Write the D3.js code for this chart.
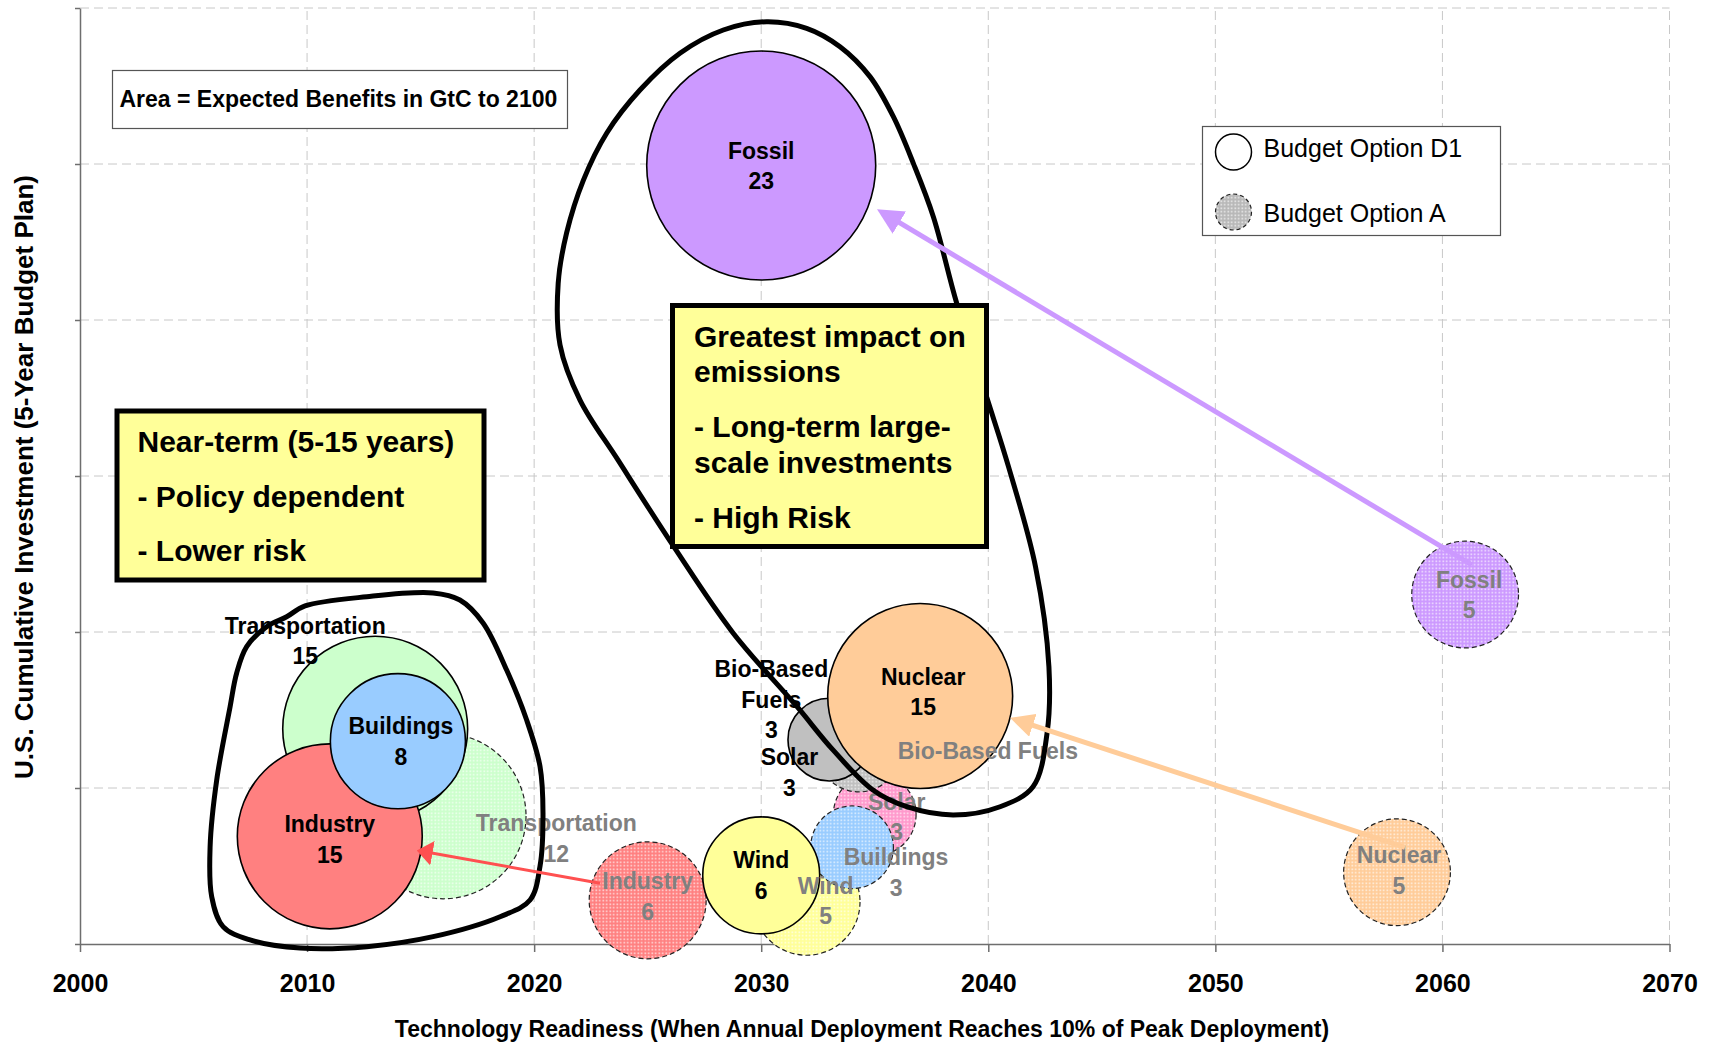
<!DOCTYPE html>
<meta charset="utf-8">
<html>

<head>
  <script src="https://d3js.org/d3.v7.min.js" charset="utf-8"></script>

  <style>
    body {
      margin: 0;
      background-color: #ffffff;
    }

    text {
      font-family: 'Liberation Sans', Arial, sans-serif;
    }

    /*gridlines*/
    .grid line {
      stroke: #c8c8c8;
      stroke-width: 1;
      stroke-dasharray: 9, 5;
    }

    /*axes*/
    .axis path,
    .axis line {
      fill: none;
      stroke: #6e6e6e;
      stroke-width: 1.5;
    }

    .x-axis text {
      font-size: 25px;
      font-weight: bold;
      fill: #000;
    }

    .axis-title {
      font-size: 23px;
      font-weight: bold;
      text-anchor: middle;
    }

    /*bubbles*/
    .bubble-d1 {
      stroke: #000;
      stroke-width: 1.6;
    }

    .bubble-a {
      stroke: #222;
      stroke-width: 1.2;
      stroke-dasharray: 5, 3;
    }

    .lab {
      font-size: 23px;
      font-weight: bold;
      text-anchor: middle;
    }

    .loop {
      fill: none;
      stroke: #000;
      stroke-width: 5;
    }

    .note rect {
      fill: #ffff99;
      stroke: #000;
      stroke-width: 5;
    }

    .note text {
      font-size: 30px;
      font-weight: bold;
    }
  </style>
</head>

<body>
  <script>
    //Technologies, in drawing order
    var techs = ["Solar", "Bio-Based Fuels", "Nuclear", "Fossil", "Transportation", "Industry", "Wind", "Buildings"];

    //Budget Option D1 (solid bubbles)
    var d1Year = [2036, 2033, 2037, 2030, 2013, 2011, 2030, 2014];
    var d1Invest = [1.50, 1.31, 1.59, 4.99, 1.38, 0.69, 0.44, 1.30];
    var d1Benefit = [3, 3, 15, 23, 15, 15, 6, 8];

    //Budget Option A (dotted bubbles)
    var aYear = [2035, 2034.3, 2058, 2061, 2016, 2025, 2032, 2034];
    var aInvest = [0.83, 1.24, 0.46, 2.24, 0.82, 0.28, 0.27, 0.62];
    var aBenefit = [3, 3, 5, 5, 12, 6, 5, 3];

    //Axis ticks
    var xTicks = [2000, 2010, 2020, 2030, 2040, 2050, 2060, 2070];
    var yTicks = [0, 1, 2, 3, 4, 5, 6];

    //Arrows from option A to option D1
    var arrowTech = ["Fossil", "Nuclear", "Industry"];
    var arrowFrom = [[2061.3, 2.43], [2058.35, 0.62], [2022.9, 0.39]];
    var arrowTo = [[2035.1, 4.71], [2040.96, 1.45], [2014.83, 0.60]];

    //Hand drawn groupings (year, investment)
    var longTermLoop = [[2030.24, 5.912], [2032.0, 5.87], [2033.47, 5.752], [2034.79, 5.56], [2035.82, 5.303],
      [2036.7, 5.004], [2037.58, 4.662], [2038.61, 4.107], [2039.97, 3.487], [2040.89, 3.06], [2042.08, 2.419],
      [2042.67, 1.778], [2042.59, 1.353], [2041.97, 1.008], [2040.52, 0.88], [2038.45, 0.827], [2036.41, 0.88],
      [2034.92, 0.987], [2033.16, 1.244], [2031.58, 1.521], [2028.76, 1.994], [2026.15, 2.547], [2023.69, 3.103],
      [2022.02, 3.487], [2021.14, 3.84], [2021.06, 4.237], [2021.43, 4.558], [2022.17, 4.897], [2023.2, 5.199],
      [2024.66, 5.474], [2026.42, 5.71], [2028.33, 5.859]];
    var nearTermLoop = [[2009.91, 2.167], [2012.63, 2.226], [2015.55, 2.25], [2016.73, 2.205], [2017.75, 2.058],
      [2018.79, 1.756], [2019.67, 1.436], [2020.26, 1.137], [2020.39, 0.84], [2020.26, 0.5], [2019.82, 0.282],
      [2018.5, 0.175], [2015.55, 0.047], [2012.63, -0.017], [2009.69, -0.026], [2007.49, 0.026], [2006.3, 0.111],
      [2005.8, 0.303], [2005.73, 0.624], [2006.02, 1.051], [2006.61, 1.521], [2006.9, 1.737], [2007.34, 1.906],
      [2008.22, 2.034], [2009.1, 2.098]];

    //Texts
    var nearTermNote = ["Near-term (5-15 years)", "- Policy dependent", "- Lower risk"];
    var longTermNote = ["Greatest impact on", "emissions", "- Long-term large-", "scale investments", "- High Risk"];
    var areaNote = "Area = Expected Benefits in GtC to 2100";
    var legendLabels = ["Budget Option D1", "Budget Option A"];
    var xTitle = "Technology Readiness (When Annual Deployment Reaches 10% of Peak Deployment)";
    var yTitle = "U.S. Cumulative Investment (5-Year Budget Plan)";

    //Colours
    var colour = {
      "Fossil": "#cc99ff",
      "Nuclear": "#ffcc99",
      "Transportation": "#ccffcc",
      "Buildings": "#99ccff",
      "Industry": "#ff8080",
      "Wind": "#ffff99",
      "Bio-Based Fuels": "#c0c0c0",
      "Solar": "#ff99cc"
    };
    var arrowColour = { "Fossil": "#cc99ff", "Nuclear": "#ffcc99", "Industry": "#ff5050" };

    //Label shifts (px) where labels sit off centre
    var d1Shift = { "Solar": [-108, 62], "Bio-Based Fuels": [-58, -40], "Transportation": [-70, -88],
      "Nuclear": [3, -4], "Buildings": [3, 0], "Industry": [0, 3] };
    var aShift = { "Transportation": [113, 22], "Wind": [19, -1], "Buildings": [44, 25], "Solar": [22, 2],
      "Bio-Based Fuels": [129, 0], "Fossil": [4, 0], "Industry": [0, -4], "Nuclear": [2, -2] };

    //Margin conventions
    var m = { top: 8, right: 41.5, bottom: 100, left: 80 },
      W = 1711, H = 1044,
      w = W - m.left - m.right,
      h = H - m.top - m.bottom;

    var svg = d3.select("body")
      .append("svg")
      .attr("width", W)
      .attr("height", H);

    var defs = svg.append("defs");

    //Dotted fills for option A
    techs.forEach((t, i) => {
      var p = defs.append("pattern")
        .attr("id", "dots" + i)
        .attr("patternUnits", "userSpaceOnUse")
        .attr("width", 3.5).attr("height", 3.5);
      p.append("rect").attr("width", 3.5).attr("height", 3.5).attr("fill", colour[t]);
      p.append("rect").attr("x", 0.5).attr("y", 0.5).attr("width", 1.5).attr("height", 1.5)
        .attr("fill", "#fff").attr("opacity", 0.8);
    });
    var lp = defs.append("pattern")
      .attr("id", "dotsLegend")
      .attr("patternUnits", "userSpaceOnUse")
      .attr("width", 3.5).attr("height", 3.5);
    lp.append("rect").attr("width", 3.5).attr("height", 3.5).attr("fill", "#b8b8b8");
    lp.append("rect").attr("x", 0.5).attr("y", 0.5).attr("width", 1.5).attr("height", 1.5)
      .attr("fill", "#fff").attr("opacity", 0.8);

    //Arrow heads
    var headSize = { "Fossil": [26, 13], "Nuclear": [24, 12], "Industry": [16, 12.5] };
    arrowTech.forEach(t => {
      var s = headSize[t];
      defs.append("marker")
        .attr("id", "head-" + t)
        .attr("markerUnits", "userSpaceOnUse")
        .attr("viewBox", `0 ${-s[1]} ${s[0]} ${2 * s[1]}`)
        .attr("markerWidth", s[0])
        .attr("markerHeight", 2 * s[1])
        .attr("refX", s[0] * 0.5)
        .attr("refY", 0)
        .attr("orient", "auto")
        .append("path")
        .attr("d", `M0,${-s[1]}L${s[0]},0L0,${s[1]}Z`)
        .attr("fill", arrowColour[t]);
    });

    //Scales
    var x = d3.scaleLinear().domain([2000, 2070]).range([m.left, m.left + w]);
    var y = d3.scaleLinear().domain([0, 6]).range([m.top + h, m.top]);
    var r = d3.scaleSqrt().domain([0, 23]).range([0, 114.5]);

    //Gridlines
    var grid = svg.append("g").attr("class", "grid");
    grid.selectAll(".vg")
      .data(xTicks.slice(1))
      .enter().append("line")
      .attr("x1", d => x(d)).attr("x2", d => x(d))
      .attr("y1", y(0)).attr("y2", y(6));
    grid.selectAll(".hg")
      .data(yTicks.slice(1))
      .enter().append("line")
      .attr("x1", x(2000)).attr("x2", x(2070))
      .attr("y1", d => y(d)).attr("y2", d => y(d));

    //Axes
    svg.append("g")
      .attr("class", "axis x-axis")
      .attr("transform", `translate(0, ${y(0)})`)
      .call(d3.axisBottom(x)
        .tickValues(xTicks)
        .tickFormat(d3.format("d"))
        .tickSize(8)
        .tickSizeOuter(0)
        .tickPadding(22));

    svg.append("g")
      .attr("class", "axis y-axis")
      .attr("transform", `translate(${x(2000)}, 0)`)
      .call(d3.axisLeft(y)
        .tickValues(yTicks)
        .tickFormat("")
        .tickSize(5)
        .tickSizeOuter(0));

    //Axis titles
    svg.append("text")
      .attr("class", "axis-title")
      .attr("x", 862)
      .attr("y", 1037)
      .text(xTitle);

    svg.append("text")
      .attr("class", "axis-title")
      .attr("transform", "translate(33, 477) rotate(-90)")
      .style("font-size", "26px")
      .text(yTitle);

    //Bubble data
    var aData = techs.map((t, i) => ({ tech: t, i: i, year: aYear[i], inv: aInvest[i], val: aBenefit[i] }));
    var d1Data = techs.map((t, i) => ({ tech: t, i: i, year: d1Year[i], inv: d1Invest[i], val: d1Benefit[i] }));

    svg.selectAll(".bubble-a")
      .data(aData)
      .enter()
      .append("circle")
      .attr("class", "bubble-a")
      .attr("cx", d => x(d.year))
      .attr("cy", d => y(d.inv))
      .attr("r", d => r(d.val))
      .attr("fill", d => `url(#dots${d.i})`);

    svg.selectAll(".bubble-d1")
      .data(d1Data)
      .enter()
      .append("circle")
      .attr("class", "bubble-d1")
      .attr("cx", d => x(d.year))
      .attr("cy", d => y(d.inv))
      .attr("r", d => r(d.val))
      .attr("fill", d => colour[d.tech]);

    //Bubble labels
    function drawLabels(data, shift, fill, lines) {
      data.forEach(d => {
        var s = shift[d.tech] || [0, 0];
        var ls = lines(d);
        var cx = x(d.year) + s[0], cy = y(d.inv) + s[1];
        svg.append("text")
          .attr("class", "lab")
          .attr("fill", fill)
          .selectAll("tspan")
          .data(ls)
          .enter()
          .append("tspan")
          .attr("x", cx)
          .attr("y", (l, k) => cy + (k - (ls.length - 1) / 2) * 30.5)
          .attr("dy", "0.36em")
          .text(l => l);
      });
    }

    drawLabels(d1Data, d1Shift, "#000",
      d => d.tech == "Bio-Based Fuels" ? ["Bio-Based", "Fuels", d.val] : [d.tech, d.val]);
    drawLabels(aData, aShift, "#808080",
      d => d.tech == "Bio-Based Fuels" ? [d.tech] : [d.tech, d.val]);

    //Groupings
    var loopLine = d3.line()
      .x(d => x(d[0]))
      .y(d => y(d[1]))
      .curve(d3.curveCatmullRomClosed.alpha(0.5));

    svg.append("path").attr("class", "loop").attr("d", loopLine(longTermLoop));
    svg.append("path").attr("class", "loop").attr("d", loopLine(nearTermLoop));

    //Arrows
    arrowTech.forEach((t, i) => {
      var x1 = x(arrowFrom[i][0]), y1 = y(arrowFrom[i][1]);
      var x2 = x(arrowTo[i][0]), y2 = y(arrowTo[i][1]);
      var len = Math.hypot(x2 - x1, y2 - y1);
      var back = headSize[t][0] * 0.5;
      svg.append("line")
        .attr("x1", x1).attr("y1", y1)
        .attr("x2", x2 - (x2 - x1) / len * back)
        .attr("y2", y2 - (y2 - y1) / len * back)
        .attr("stroke", arrowColour[t])
        .attr("stroke-width", t == "Industry" ? 3 : 5)
        .attr("marker-end", `url(#head-${t})`);
    });

    //Yellow notes
    function note(x0, y0, bw, bh, lines, tx, baselines) {
      var g = svg.append("g").attr("class", "note");
      g.append("rect").attr("x", x0).attr("y", y0).attr("width", bw).attr("height", bh);
      g.selectAll("text")
        .data(lines)
        .enter()
        .append("text")
        .attr("x", tx)
        .attr("y", (l, k) => baselines[k])
        .text(l => l);
    }

    note(117, 411, 367, 169, nearTermNote, 137.5, [452, 506.5, 561]);
    note(672.5, 305.5, 314, 241, longTermNote, 694, [346.5, 382, 437, 473, 527.5]);

    //Area note
    svg.append("rect")
      .attr("x", 112.5).attr("y", 70.5)
      .attr("width", 455).attr("height", 58)
      .attr("fill", "#fff")
      .attr("stroke", "#555")
      .attr("stroke-width", 1.2);
    svg.append("text")
      .attr("x", 119.5).attr("y", 107)
      .style("font-size", "23px")
      .style("font-weight", "bold")
      .text(areaNote);

    //Legend
    var lg = svg.append("g").attr("transform", "translate(1202.5, 126.5)");
    lg.append("rect")
      .attr("width", 298).attr("height", 109)
      .attr("fill", "#fff")
      .attr("stroke", "#555")
      .attr("stroke-width", 1.2);
    lg.append("circle")
      .attr("cx", 31).attr("cy", 25.5).attr("r", 18)
      .attr("fill", "#fff").attr("stroke", "#000").attr("stroke-width", 1.5);
    lg.append("circle")
      .attr("cx", 31).attr("cy", 85.5).attr("r", 18)
      .attr("fill", "url(#dotsLegend)").attr("stroke", "#222")
      .attr("stroke-width", 1.2).attr("stroke-dasharray", "4,3");
    lg.selectAll(".lt")
      .data(legendLabels)
      .enter()
      .append("text")
      .attr("x", 61)
      .attr("y", (d, k) => [30, 95][k])
      .style("font-size", "25px")
      .text(d => d);
  </script>
</body>

</html>
